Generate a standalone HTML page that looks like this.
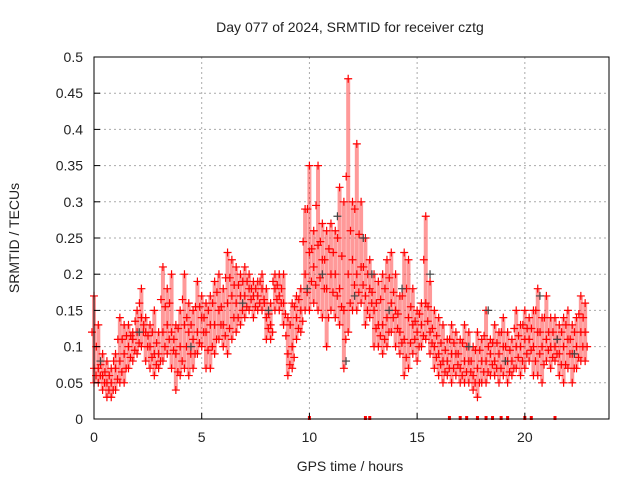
<!DOCTYPE html>
<html><head><meta charset="utf-8"><style>
body{margin:0;background:#fff}
svg text{font-family:"Liberation Sans",sans-serif;font-size:14px;fill:#222}
</style></head><body>
<svg id="c" width="640" height="480">
<text x="350" y="32" text-anchor="middle">Day 077 of 2024, SRMTID for receiver cztg</text>
<text x="350" y="471" text-anchor="middle">GPS time / hours</text>
<text transform="translate(19,238) rotate(-90)" text-anchor="middle">SRMTID / TECUs</text>
<g id="grid"></g>
<g id="marks"></g>
<rect x="94" y="57" width="515" height="362" fill="none" stroke="#000" stroke-width="1"/>
<g id="ticks"></g>
</svg>
<script>
const times=[0,0.2,0.4,0.6,0.8,1,1.2,1.4,1.6,1.8,2,2.2,2.4,2.6,2.8,3,3.2,3.4,3.6,3.8,4,4.2,4.4,4.6,4.8,5,5.2,5.4,5.6,5.8,6,6.2,6.4,6.6,6.8,7,7.2,7.4,7.6,7.8,8,8.2,8.4,8.6,8.8,9,9.2,9.4,9.6,9.8,10,10.2,10.4,10.6,10.8,11,11.2,11.4,11.6,11.8,12,12.2,12.4,12.6,12.8,13,13.2,13.4,13.6,13.8,14,14.2,14.4,14.6,14.8,15,15.2,15.4,15.6,15.8,16,16.2,16.4,16.6,16.8,17,17.2,17.4,17.6,17.8,18,18.2,18.4,18.6,18.8,19,19.2,19.4,19.6,19.8,20,20.2,20.4,20.6,20.8,21,21.2,21.4,21.6,21.8,22,22.2,22.4,22.6,22.8];
const lo=[.05,.05,.04,.03,.03,.04,.05,.05,.07,.08,.09,.10,.08,.07,.06,.07,.08,.09,.07,.04,.06,.07,.06,.07,.09,.10,.07,.07,.09,.11,.10,.09,.11,.12,.13,.14,.15,.14,.15,.15,.11,.11,.15,.15,.13,.06,.07,.11,.12,.15,.15,.16,.15,.14,.10,.15,.14,.13,.07,.12,.15,.15,.16,.13,.14,.10,.10,.09,.10,.12,.10,.09,.06,.07,.09,.08,.10,.11,.09,.07,.06,.05,.06,.05,.06,.05,.05,.05,.04,.03,.05,.05,.06,.06,.05,.06,.05,.06,.07,.06,.07,.08,.06,.06,.05,.08,.07,.08,.06,.05,.07,.05,.07,.08,.08];
const mid=[.07,.07,.06,.05,.05,.07,.08,.09,.10,.11,.12,.14,.12,.10,.09,.09,.12,.13,.12,.09,.10,.13,.12,.11,.12,.14,.12,.13,.13,.15,.13,.16,.17,.16,.17,.17,.18,.17,.17,.18,.14,.13,.18,.17,.16,.09,.10,.14,.15,.20,.23,.21,.24,.22,.18,.20,.20,.18,.15,.20,.22,.20,.21,.17,.18,.15,.13,.13,.14,.16,.15,.12,.11,.14,.13,.12,.13,.16,.12,.10,.09,.08,.08,.09,.09,.07,.08,.08,.06,.07,.08,.08,.09,.08,.09,.10,.08,.08,.10,.10,.11,.11,.10,.12,.10,.11,.10,.10,.09,.10,.11,.09,.10,.12,.12];
const hi=[.17,.13,.09,.08,.07,.09,.14,.13,.13,.12,.15,.18,.14,.13,.15,.12,.21,.18,.20,.13,.15,.20,.16,.15,.19,.17,.16,.17,.19,.20,.18,.23,.22,.21,.20,.21,.20,.19,.19,.20,.18,.16,.20,.20,.20,.14,.16,.17,.18,.29,.35,.26,.35,.27,.26,.27,.26,.32,.30,.47,.30,.38,.30,.25,.22,.20,.19,.20,.22,.23,.20,.17,.23,.22,.18,.15,.16,.28,.19,.15,.14,.13,.11,.13,.12,.11,.13,.12,.10,.12,.11,.15,.11,.13,.12,.14,.12,.11,.15,.13,.15,.14,.15,.18,.14,.17,.14,.14,.13,.14,.15,.13,.14,.17,.16];
const grayT=[0.3,2.1,4.5,6.9,8.1,9.9,10.6,11.3,11.7,12.1,12.5,12.9,13.7,14.3,15.6,17.4,18.3,19.1,20.7,21.5,22.3];
const grayV=[.08,.12,.10,.16,.15,.18,.20,.28,.08,.17,.25,.20,.15,.18,.20,.10,.15,.08,.17,.11,.09];
const zeroT=[10,12.6,12.8,16.5,17,17.3,17.8,18.2,18.5,18.9,19.2,20,20.3,21.4];
const xTicks=[0,5,10,15,20];
const yTicks=[0,0.05,0.1,0.15,0.2,0.25,0.3,0.35,0.4,0.45,0.5];
const X=h=>94+h*(517/24), Y=v=>419-v*724;
const NS="http://www.w3.org/2000/svg";
function mk(tag,at,parent){const e=document.createElementNS(NS,tag);for(const k in at)e.setAttribute(k,at[k]);parent.appendChild(e);return e;}
const grid=document.getElementById('grid'),ticks=document.getElementById('ticks'),marks=document.getElementById('marks');
xTicks.forEach(t=>{
 if(t>0){const g=mk('line',{x1:X(t),x2:X(t),y1:57,y2:419,stroke:'#aaa','stroke-dasharray':'2,3'},grid);
 
 }
 mk('line',{x1:X(t),x2:X(t),y1:419,y2:413,stroke:'#000'},ticks);
 const tx=mk('text',{x:X(t),y:442,'text-anchor':'middle'},ticks);tx.textContent=t;
 
 
});
yTicks.forEach(t=>{
 if(t>0){const g=mk('line',{x1:94,x2:609,y1:Y(t),y2:Y(t),stroke:'#aaa','stroke-dasharray':'2,3'},grid);
 
 }
 mk('line',{x1:94,x2:100,y1:Y(t),y2:Y(t),stroke:'#000'},ticks);
 const tx=mk('text',{x:83,y:Y(t)+5,'text-anchor':'end'},ticks);tx.textContent=String(t);
 
 
});
function plus(x,y,col){const p=mk('path',{d:`M${x-4},${y}h8M${x},${y-4}v8`,stroke:col,'stroke-width':1.2},marks);
 
 }
times.forEach((t,i)=>{
 const r=mk('line',{x1:X(t),x2:X(t),y1:Y(lo[i]),y2:Y(hi[i]),stroke:'#f00','stroke-width':4,'stroke-opacity':0.4},marks);
 
 
 plus(X(t),Y(lo[i]),'#f00');plus(X(t),Y(mid[i]),'#f00');plus(X(t),Y(hi[i]),'#f00');
 plus(X(t)+2,Y((lo[i]+mid[i])/2),'#f00');plus(X(t)-2,Y((mid[i]+hi[i])/2),'#f00');
});
grayT.forEach((t,i)=>plus(X(t),Y(grayV[i]),'#444'));
zeroT.forEach(t=>{const z=mk('rect',{x:X(t)-1.5,y:416,width:3,height:4,fill:'#f00'},marks);
 
 });
</script>
</body></html>
